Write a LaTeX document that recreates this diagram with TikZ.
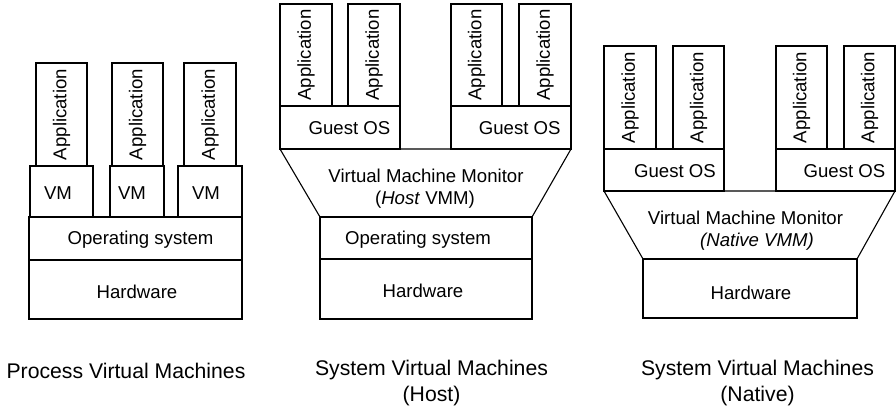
\documentclass[tikz,border=0pt]{standalone}
\usepackage{fontspec}
\setmainfont{Liberation Sans}
\usetikzlibrary{fit}
\begin{document}
\begin{tikzpicture}[x=1pt,y=-1pt,
  blk/.style={draw=black, line width=1.1pt, inner sep=0pt, outer sep=0pt},
  txt/.style={font=\fontsize{18.6}{22}\selectfont, inner sep=0pt},
  apptxt/.style={txt, rotate=90},
  captxt/.style={font=\fontsize{21.2}{26}\selectfont, inner sep=0pt, align=center}]
\useasboundingbox (0,0) rectangle (896,410);
% ---------------- Panel 1: Process VMs
\node[blk, fit={(36,63)(87,166)}] (pa1) {};
\node[blk, fit={(112,63)(163,166)}] (pa2) {};
\node[blk, fit={(184,63)(236,166)}] (pa3) {};
\node[blk, fit={(30,166)(93,217)}] (vm1) {};
\node[blk, fit={(110,166)(164,217)}] (vm2) {};
\node[blk, fit={(178,166)(242,217)}] (vm3) {};
\node[blk, fit={(29,217)(242,260)}] (pos) {};
\node[blk, fit={(29,260)(242,319)}] (phw) {};
\node[apptxt] (tpa1) at (pa1.center) {Application};
\node[apptxt] (tpa2) at (pa2.center) {Application};
\node[apptxt] (tpa3) at (pa3.center) {Application};
\node[txt] (tvm1) at (58,193) {VM};
\node[txt] (tvm2) at (132,193) {VM};
\node[txt] (tvm3) at (206,193) {VM};
\node[txt] (tpos) at (140.5,240) {Operating system};
\node[txt] (tphw) at (137,292) {Hardware};
\node[captxt] (cap1) at (126,371) {Process Virtual Machines};
% ---------------- Panel 2: Host VMM
\node[blk, fit={(280,4)(332,106)}] (ha1) {};
\node[blk, fit={(348,4)(400,106)}] (ha2) {};
\node[blk, fit={(451,4)(502,106)}] (ha3) {};
\node[blk, fit={(519,4)(571,106)}] (ha4) {};
\node[blk, fit={(280,106)(400,149)}] (hg1) {};
\node[blk, fit={(451,106)(571,149)}] (hg2) {};
\node[blk, fit={(320,217)(532,259)}] (hos) {};
\node[blk, fit={(320,259)(532,319)}] (hhw) {};
\draw[line width=1.1pt, line join=miter] (hg1.south west) -- (hg2.south east) -- (hos.north east) -- (hos.north west) -- cycle;
\node[apptxt] (tha1) at (ha1.center) {Application};
\node[apptxt] (tha2) at (ha2.center) {Application};
\node[apptxt] (tha3) at (ha3.center) {Application};
\node[apptxt] (tha4) at (ha4.center) {Application};
\node[txt] (thg1) at (349.5,128) {Guest OS};
\node[txt] (thg2) at (519.7,128) {Guest OS};
\node[txt] (thv1) at (426,176) {Virtual Machine Monitor};
\node[txt] (thv2) at (425,200) {(\textit{Host} VMM)};
\node[txt] (thos) at (418,240) {Operating system};
\node[txt] (thhw) at (423,291) {Hardware};
\node[captxt] (cap2) at (431.5,383) {System Virtual Machines\\(Host)};
% ---------------- Panel 3: Native VMM
\node[blk, fit={(604,46)(656,149)}] (na1) {};
\node[blk, fit={(673,46)(724,149)}] (na2) {};
\node[blk, fit={(776,46)(827,149)}] (na3) {};
\node[blk, fit={(844,46)(895,149)}] (na4) {};
\node[blk, fit={(604,149)(724,191)}] (ng1) {};
\node[blk, fit={(776,149)(895,191)}] (ng2) {};
\node[blk, fit={(643,259)(857,318)}] (nhw) {};
\draw[line width=1.1pt, line join=miter] (ng1.south west) -- (ng2.south east) -- (nhw.north east) -- (nhw.north west) -- cycle;
\node[apptxt] (tna1) at (na1.center) {Application};
\node[apptxt] (tna2) at (na2.center) {Application};
\node[apptxt] (tna3) at (na3.center) {Application};
\node[apptxt] (tna4) at (na4.center) {Application};
\node[txt] (tng1) at (675,171) {Guest OS};
\node[txt] (tng2) at (844.5,171) {Guest OS};
\node[txt] (tnv1) at (745.5,218) {Virtual Machine Monitor};
\node[txt] (tnv2) at (757,242) {\textit{(Native VMM)}};
\node[txt] (tnhw) at (751,293) {Hardware};
\node[captxt] (cap3) at (757.5,383) {System Virtual Machines\\(Native)};
\end{tikzpicture}
\end{document}
